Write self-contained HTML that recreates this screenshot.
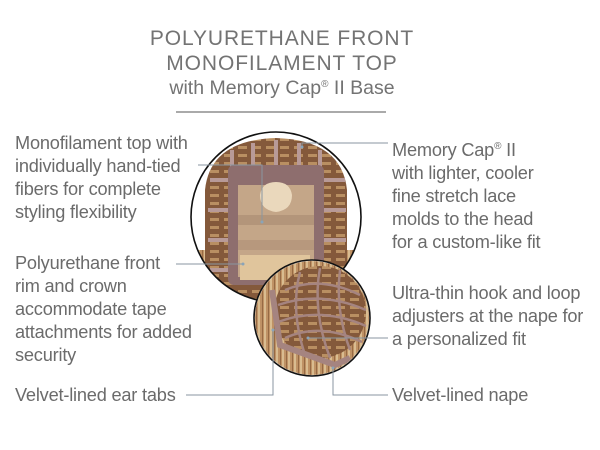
<!DOCTYPE html>
<html><head><meta charset="utf-8"><style>
html,body{margin:0;padding:0;background:#fff}
#c{position:relative;width:600px;height:450px;overflow:hidden;font-family:"Liberation Sans",sans-serif;color:#6b6b6b}
.t{position:absolute;white-space:nowrap;font-size:18.2px;line-height:23px;letter-spacing:-0.2px}
.h{position:absolute;left:0;width:564px;text-align:center;font-size:21px;letter-spacing:0.9px;color:#737373;white-space:nowrap}
sup{font-size:10px;vertical-align:7px}
svg{position:absolute;left:0;top:0}
</style></head><body><div id="c">
<svg width="600" height="450">
<defs>
<clipPath id="bc"><circle cx="276" cy="217" r="85"/></clipPath>
<clipPath id="sc"><circle cx="312" cy="318" r="57"/></clipPath>
<pattern id="hair" width="6" height="40" patternUnits="userSpaceOnUse"><rect width="6" height="40" fill="#bf9265"/><rect width="2" height="40" fill="#d9bc90"/><rect x="4" width="1" height="40" fill="#966a44"/></pattern>
<pattern id="weft" width="14" height="8" patternUnits="userSpaceOnUse"><rect width="14" height="8" fill="#84593b"/><rect y="2" width="9" height="3" fill="#b98f62"/></pattern>
</defs>
<g clip-path="url(#bc)">
<rect x="180" y="120" width="200" height="200" fill="#fff"/>
<rect x="180" y="250" width="200" height="80" fill="url(#hair)"/>
<path d="M205 300 L205 190 Q210 140 276 138 Q342 140 347 190 L347 300 Z" fill="url(#weft)"/>
<g stroke="#b89a98" stroke-width="4" fill="none">
<path d="M232 150 V175 M253 143 V172 M276 140 V172 M299 143 V172 M320 150 V175"/>
<path d="M210 180 H235 M317 180 H345 M208 210 H230 M322 210 H346 M208 240 H230 M322 240 H346 M210 270 H230 M322 270 H345"/>
</g>
<rect x="228" y="165" width="96" height="120" fill="#8e6e6e" rx="6"/>
<rect x="238" y="185" width="76" height="92" fill="#c4a688"/>
<rect x="238" y="215" width="76" height="10" fill="#a98a72" opacity=".6"/>
<rect x="238" y="240" width="76" height="10" fill="#a98a72" opacity=".5"/>
<path d="M260 195 Q262 182 276 182 Q290 182 292 195 Q292 210 276 212 Q260 210 260 195Z" fill="#ead8bc"/>
<rect x="240" y="255" width="70" height="25" fill="#e0c59c"/>
</g>
<circle cx="276" cy="217" r="85" fill="none" stroke="#111" stroke-width="1.6"/>
<circle cx="312" cy="318" r="58" fill="#fff"/>
<g clip-path="url(#sc)">
<rect x="250" y="260" width="130" height="120" fill="url(#hair)"/>
<ellipse cx="320" cy="312" rx="46" ry="46" fill="url(#weft)"/>
<g stroke="#a58480" stroke-width="2.5" fill="none">
<path d="M285 290 Q320 275 360 295 M278 305 Q320 290 366 310 M278 322 Q320 306 366 326 M285 338 Q320 322 362 342"/>
<path d="M300 272 Q290 310 305 355 M320 268 Q312 310 330 358 M340 270 Q335 310 350 350"/>
<path d="M272 290 L280 345 L335 365 L350 358" stroke-width="6"/>
</g>
</g>
<circle cx="312" cy="318" r="58" fill="none" stroke="#111" stroke-width="1.6"/>
<g stroke="#8a96a0" stroke-width="1" fill="none">
<path d="M198 165 H262 V222"/>
<path d="M302 147 V143 H388"/>
<path d="M176 264 H243"/>
<path d="M186 395 H273 V330"/>
<path d="M308 338 H388"/>
<path d="M333 368 V395 H388"/>
</g>
<g fill="#8aa4b8"><circle cx="262" cy="222" r="1.5"/><circle cx="302" cy="147" r="1.5"/><circle cx="243" cy="264" r="1.5"/><circle cx="273" cy="330" r="1.5"/><circle cx="308" cy="338" r="1.5"/><circle cx="333" cy="368" r="1.5"/></g>
<line x1="176" y1="112" x2="386" y2="112" stroke="#777" stroke-width="1.3"/>
</svg>
<div class="h" style="top:27px">POLYURETHANE FRONT</div>
<div class="h" style="top:52px">MONOFILAMENT TOP</div>
<div class="h" style="top:77px;letter-spacing:0;font-size:19.5px">with Memory Cap<sup>®</sup> II Base</div>
<div class="t" style="left:15px;top:132px">Monofilament top with<br>individually hand-tied<br>fibers for complete<br>styling flexibility</div>
<div class="t" style="left:15px;top:252px">Polyurethane front<br>rim and crown<br>accommodate tape<br>attachments for added<br>security</div>
<div class="t" style="left:15px;top:384px">Velvet-lined ear tabs</div>
<div class="t" style="left:392px;top:135px">Memory Cap<sup>®</sup> II<br>with lighter, cooler<br>fine stretch lace<br>molds to the head<br>for a custom-like fit</div>
<div class="t" style="left:392px;top:282px">Ultra-thin hook and loop<br>adjusters at the nape for<br>a personalized fit</div>
<div class="t" style="left:392px;top:384px">Velvet-lined nape</div>
</div></body></html>
